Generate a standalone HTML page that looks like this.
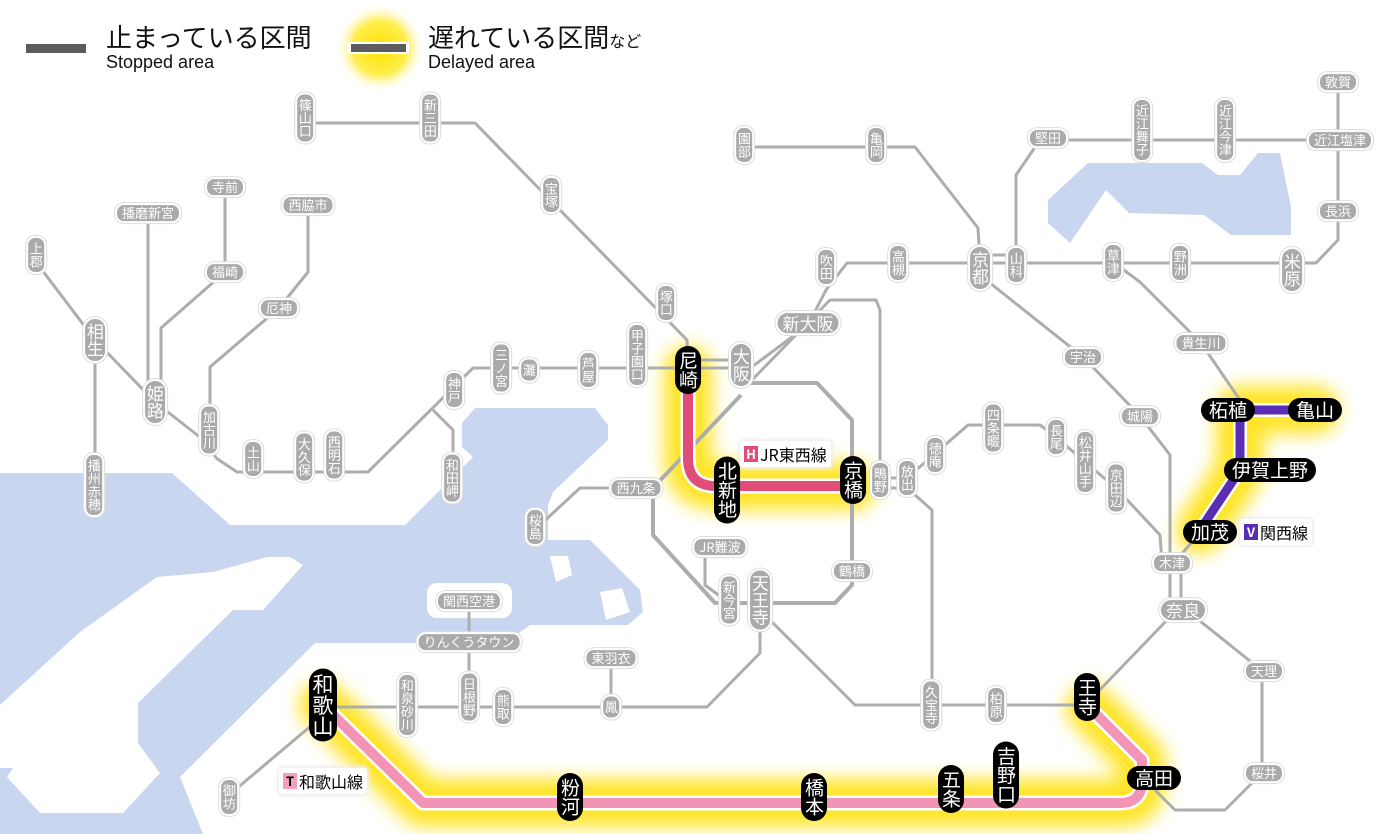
<!DOCTYPE html>
<html><head><meta charset="utf-8">
<style>
html,body{margin:0;padding:0;background:#fff}
#w{position:relative;width:1400px;height:834px;overflow:hidden;font-family:"Liberation Sans","Noto Sans CJK JP",sans-serif}
svg{position:absolute;left:0;top:0}
.p{position:absolute;transform:translate(-50%,-50%);background:#aaa;color:#fff;border:2px solid #fff;border-radius:9px;font-size:13px;line-height:1.05;white-space:nowrap;box-shadow:0 0 0 1px #ddd;font-family:"Noto Sans CJK JP",sans-serif}
.v{writing-mode:vertical-rl;text-orientation:upright;padding:4px 1px}
.h{padding:1px 5px}
.L{font-size:17px;border-radius:12px}
.b{background:#000;font-size:19px;border-radius:14px;box-shadow:none;border:none;padding:5px 3px}
.b.h{padding:2px 8px}
.lab{position:absolute;background:#fff;border-radius:3px;box-shadow:0 0 3px 2px #eee;font-size:16px;padding:1px 4px;font-family:"Noto Sans CJK JP",sans-serif;white-space:nowrap}
.lab span{display:inline-block;color:#fff;font-size:13px;font-weight:bold;width:14px;height:16px;line-height:16px;text-align:center;margin-right:2px;vertical-align:2px}
.t{position:absolute;white-space:nowrap;color:#111}
</style></head><body><div id="w">
<svg width="1400" height="834" viewBox="0 0 1400 834">
<defs>
<filter id="bl" x="-30%" y="-30%" width="160%" height="160%"><feGaussianBlur stdDeviation="9"/></filter>
<radialGradient id="rg"><stop offset="0" stop-color="#ffe100"/><stop offset="0.6" stop-color="#ffe600" stop-opacity="0.7"/><stop offset="1" stop-color="#fff" stop-opacity="0"/></radialGradient>
</defs>
<g fill="#c9d6ef">
<path d="M0,473 L172,473 L230,525 L405,525 L473,457 L462,447 L462,423 L475,408 L595,408 L608,425 L608,440 L553,492 L548,505 L548,540 L590,540 L640,590 L643,612 L628,625 L530,625 L505,643 L315,643 L180,777 L203,834 L0,834 Z"/>
<path d="M1048,200 L1088,163 L1202,163 L1218,175 L1240,175 L1258,153 L1280,153 L1291,207 L1291,235 L1231,235 L1204,215 L1129,213 L1106,190 L1070,243 L1048,223 Z"/>
</g>
<g fill="#fff">
<path d="M0,768 L13,768 L7,777 L40,813 L123,813 L160,773 L138,743 L138,703 L233,610 L263,610 L303,565 L290,557 L267,557 L213,572 L157,577 L80,632 L0,705 Z"/>
<rect x="427" y="583" width="85" height="35" rx="10"/>
<path d="M550,556 L568,556 L572,575 L556,582 Z"/>
<path d="M600,592 L622,588 L630,612 L606,620 Z"/>
</g>
<circle cx="380" cy="48" r="45" fill="url(#rg)"/>
<g fill="none" stroke="#ffe000" stroke-width="48" stroke-linejoin="round" stroke-linecap="round" filter="url(#bl)" opacity="0.85">
<path d="M688,370 L688,458 Q688,486 716,486 L853,486"/>
<path d="M323,705 L423,803 L1120,803 Q1142,803 1142,781 L1142,760 L1090,708"/>
<path d="M1315,410 L1240,410 L1240,470 L1200,530"/>
</g>
<g fill="none" stroke="#adadad" stroke-width="3" stroke-linejoin="round">
<polyline points="305,123 475,123 687,340 688,370"/>
<polyline points="216,458 237,472 368,472 473,368 745,368"/>
<polyline points="688,360 741,360"/>
<polyline points="745,372 808,325 826,290 847,263 1316,263 1338,240 1338,82"/>
<polyline points="752,380 830,300 876,300 880,310 880,480"/>
<polyline points="636,488 580,488 540,525"/>
<polyline points="705,550 705,585 725,600"/>
<polyline points="762,612 855,705 1087,705"/>
<polyline points="1090,700 1170,617"/>
<polyline points="1195,617 1255,665 1262,680 1262,773 1240,795 1225,810 1175,810 1155,790"/>
<polyline points="760,600 760,653 707,707 323,707"/>
<polyline points="469,601 469,697"/>
<polyline points="611,658 611,705"/>
<polyline points="312,725 229,795"/>
<polyline points="1170,610 1170,455 1140,416 1083,357 990,283"/>
<polyline points="1181,610 1181,555 1200,532"/>
<polyline points="880,478 907,478"/>
<polyline points="880,488 907,488"/>
<polyline points="907,478 968,425 1040,425 1056,437 1085,462 1116,488 1160,535 1162,563"/>
<polyline points="907,488 932,510 932,705"/>
<polyline points="1113,262 1140,282 1201,343 1240,400"/>
<polyline points="1016,263 1016,175 1040,140 1340,140"/>
<polyline points="744,147 915,147 978,228 980,263"/>
<polyline points="980,255 1016,255"/>
<polyline points="36,262 95,340 155,402 210,445 216,458"/>
<polyline points="95,340 95,485"/>
<polyline points="148,213 148,400"/>
<polyline points="225,187 225,272 161,328 161,400"/>
<polyline points="308,205 308,272 279,308 210,367 210,430"/>
<polyline points="433,410 453,430 453,478"/>
</g>
<polyline points="741,383 817,383 852,420 852,585 835,603 715,603 653,535 653,488 741,395" fill="none" stroke="#adadad" stroke-width="4" stroke-linejoin="round"/>
<g fill="none" stroke-linejoin="round">
<path d="M688,370 L688,458 Q688,486 716,486 L853,486" stroke="#fff" stroke-width="15"/>
<path d="M688,370 L688,458 Q688,486 716,486 L853,486" stroke="#e04d78" stroke-width="10"/>
<path d="M323,705 L423,803 L1120,803 Q1142,803 1142,781 L1142,760 L1090,708" stroke="#fff" stroke-width="15"/>
<path d="M323,705 L423,803 L1120,803 Q1142,803 1142,781 L1142,760 L1090,708" stroke="#f194b5" stroke-width="10"/>
<path d="M1315,410 L1240,410 L1240,470 L1200,530" stroke="#fff" stroke-width="14"/>
<path d="M1315,410 L1240,410 L1240,470 L1200,530" stroke="#5a2db5" stroke-width="9"/>
</g>
<rect x="26" y="44" width="60" height="9" fill="#5c5c5c"/>
<rect x="348" y="42" width="61" height="12" fill="#fff"/>
<rect x="351" y="44" width="55" height="8" fill="#5c5c5c"/>
</svg>

<div class="t" style="left:106px;top:22px;font-size:26px;font-family:'Noto Sans CJK JP',sans-serif;line-height:30px">止まっている区間</div>
<div class="t" style="left:106px;top:51px;font-size:18px;line-height:22px">Stopped area</div>
<div class="t" style="left:428px;top:22px;font-size:26px;font-family:'Noto Sans CJK JP',sans-serif;line-height:30px">遅れている区間<span style="font-size:16px">など</span></div>
<div class="t" style="left:428px;top:51px;font-size:18px;line-height:22px">Delayed area</div>

<div class="lab" style="left:740px;top:441px"><span style="background:#e04d78">H</span>JR東西線</div>
<div class="lab" style="left:279px;top:768px"><span style="background:#f5a0bf;color:#000">T</span>和歌山線</div>
<div class="lab" style="left:1240px;top:519px"><span style="background:#5a2db5">V</span>関西線</div>

<div class="p v" style="left:305px;top:118px">篠山口</div>
<div class="p v" style="left:430px;top:118px">新三田</div>
<div class="p v" style="left:551px;top:195px">宝塚</div>
<div class="p v" style="left:666px;top:303px">塚口</div>
<div class="p v" style="left:637px;top:355px">甲子園口</div>
<div class="p v" style="left:588px;top:370px">芦屋</div>
<div class="p v" style="left:529px;top:370px">灘</div>
<div class="p v" style="left:501px;top:368px">三ノ宮</div>
<div class="p v" style="left:454px;top:390px">神戸</div>
<div class="p v" style="left:452px;top:478px">和田岬</div>
<div class="p v" style="left:334px;top:455px">西明石</div>
<div class="p v" style="left:304px;top:457px">大久保</div>
<div class="p v" style="left:253px;top:459px">土山</div>
<div class="p v" style="left:209px;top:430px">加古川</div>
<div class="p v L" style="left:155px;top:402px">姫路</div>
<div class="p v L" style="left:95px;top:340px">相生</div>
<div class="p v" style="left:36px;top:255px">上郡</div>
<div class="p v" style="left:94px;top:485px">播州赤穂</div>
<div class="p h" style="left:148px;top:213px">播磨新宮</div>
<div class="p h" style="left:225px;top:187px">寺前</div>
<div class="p h" style="left:225px;top:272px">福崎</div>
<div class="p h" style="left:308px;top:205px">西脇市</div>
<div class="p h" style="left:279px;top:308px">厄神</div>
<div class="p v L" style="left:741px;top:365px">大阪</div>
<div class="p h L" style="left:808px;top:323px">新大阪</div>
<div class="p v" style="left:826px;top:267px">吹田</div>
<div class="p v" style="left:898px;top:263px">高槻</div>
<div class="p v L" style="left:980px;top:268px">京都</div>
<div class="p v" style="left:1016px;top:265px">山科</div>
<div class="p v" style="left:744px;top:145px">園部</div>
<div class="p v" style="left:876px;top:145px">亀岡</div>
<div class="p h" style="left:1048px;top:138px">堅田</div>
<div class="p v" style="left:1142px;top:130px">近江舞子</div>
<div class="p v" style="left:1225px;top:130px">近江今津</div>
<div class="p h" style="left:1338px;top:82px">敦賀</div>
<div class="p h" style="left:1340px;top:140px">近江塩津</div>
<div class="p h" style="left:1338px;top:211px">長浜</div>
<div class="p v L" style="left:1292px;top:270px">米原</div>
<div class="p v" style="left:1180px;top:263px">野洲</div>
<div class="p v" style="left:1113px;top:262px">草津</div>
<div class="p h" style="left:1083px;top:357px">宇治</div>
<div class="p h" style="left:1201px;top:343px">貴生川</div>
<div class="p h" style="left:1140px;top:416px">城陽</div>
<div class="p h" style="left:1172px;top:563px">木津</div>
<div class="p h L" style="left:1183px;top:610px">奈良</div>
<div class="p h" style="left:1264px;top:671px">天理</div>
<div class="p h" style="left:1264px;top:773px">桜井</div>
<div class="p v" style="left:229px;top:797px">御坊</div>
<div class="p v" style="left:407px;top:705px">和泉砂川</div>
<div class="p v" style="left:469px;top:697px">日根野</div>
<div class="p v" style="left:503px;top:707px">熊取</div>
<div class="p v" style="left:611px;top:707px">鳳</div>
<div class="p h" style="left:611px;top:658px">東羽衣</div>
<div class="p h" style="left:469px;top:642px">りんくうタウン</div>
<div class="p h" style="left:469px;top:601px">関西空港</div>
<div class="p v L" style="left:760px;top:600px">天王寺</div>
<div class="p v" style="left:729px;top:600px">新今宮</div>
<div class="p h" style="left:720px;top:547px">JR難波</div>
<div class="p h" style="left:852px;top:571px">鶴橋</div>
<div class="p h" style="left:636px;top:488px">西九条</div>
<div class="p v" style="left:535px;top:527px">桜島</div>
<div class="p v" style="left:880px;top:480px">鴫野</div>
<div class="p v" style="left:907px;top:478px">放出</div>
<div class="p v" style="left:935px;top:455px">徳庵</div>
<div class="p v" style="left:993px;top:428px">四条畷</div>
<div class="p v" style="left:1056px;top:437px">長尾</div>
<div class="p v" style="left:1085px;top:462px">松井山手</div>
<div class="p v" style="left:1116px;top:488px">京田辺</div>
<div class="p v" style="left:931px;top:705px">久宝寺</div>
<div class="p v" style="left:996px;top:705px">柏原</div>

<div class="p v b" style="left:688px;top:370px">尼崎</div>
<div class="p v b" style="left:727px;top:490px">北新地</div>
<div class="p v b" style="left:853px;top:480px">京橋</div>
<div class="p h b" style="left:1228px;top:410px">柘植</div>
<div class="p h b" style="left:1315px;top:410px">亀山</div>
<div class="p h b" style="left:1270px;top:470px">伊賀上野</div>
<div class="p h b" style="left:1210px;top:532px">加茂</div>
<div class="p h b" style="left:1154px;top:778px">高田</div>
<div class="p v b" style="left:1087px;top:697px">王寺</div>
<div class="p v b" style="left:1006px;top:775px">吉野口</div>
<div class="p v b" style="left:951px;top:789px">五条</div>
<div class="p v b" style="left:814px;top:797px">橋本</div>
<div class="p v b" style="left:570px;top:797px">粉河</div>
<div class="p v b" style="left:323px;top:705px;font-size:21px">和歌山</div>
</div></body></html>
